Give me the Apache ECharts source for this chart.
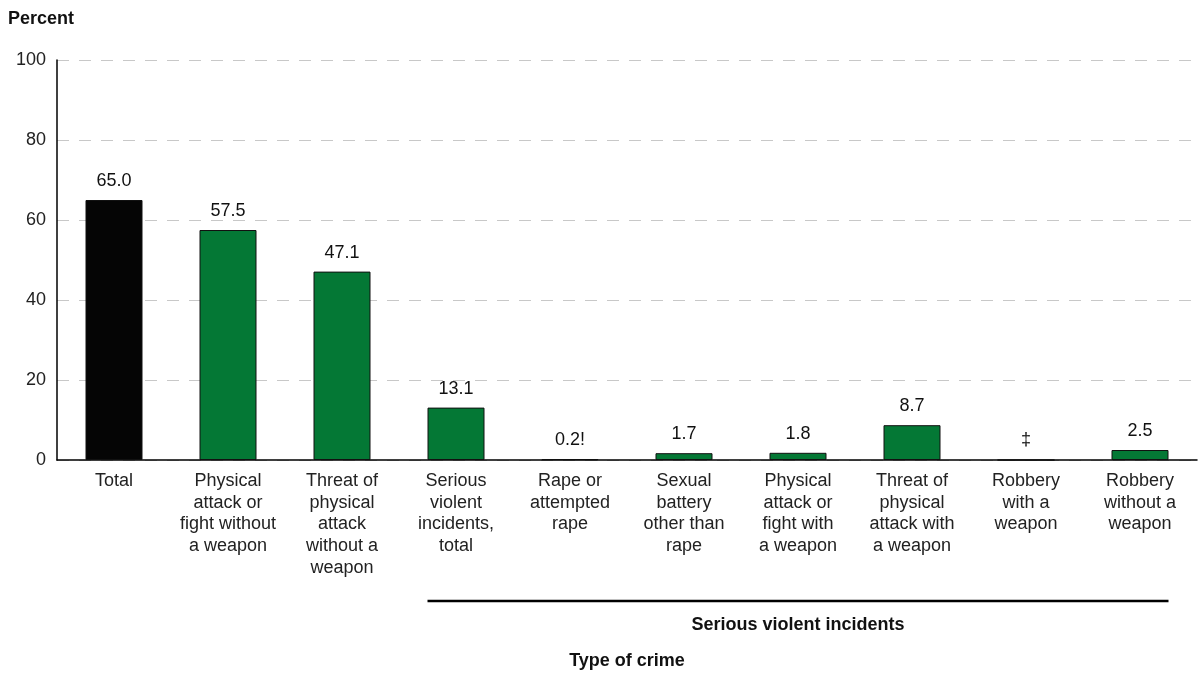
<!DOCTYPE html>
<html><head><meta charset="utf-8">
<script src="https://cdn.jsdelivr.net/npm/echarts@6/dist/echarts.min.js"></script>
<style>html,body{margin:0;padding:0;background:#fff}#c{width:1203px;height:675px}</style>
</head><body><div id="c"></div>
<script>
const categories = ["Total", "Physical\nattack or\nfight without\na weapon", "Threat of\nphysical\nattack\nwithout a\nweapon", "Serious\nviolent\nincidents,\ntotal", "Rape or\nattempted\nrape", "Sexual\nbattery\nother than\nrape", "Physical\nattack or\nfight with\na weapon", "Threat of\nphysical\nattack with\na weapon", "Robbery\nwith a\nweapon", "Robbery\nwithout a\nweapon"];
const values = [65.0, 57.5, 47.1, 13.1, 0.2, 1.7, 1.8, 8.7, 0, 2.5];
const valueLabels = ["65.0", "57.5", "47.1", "13.1", "0.2!", "1.7", "1.8", "8.7", "‡", "2.5"];
const yTicks = [0, 20, 40, 60, 80, 100];
const groupLabel = "Serious violent incidents";
const groupStart = 3, groupEnd = 9;

const FONT = "Liberation Sans, Arial, sans-serif";
const chart = echarts.init(document.getElementById('c'), null, {renderer: 'canvas'});
const option = {
  animation: false,
  textStyle: {fontFamily: FONT},
  grid: {left: 57, right: 6, top: 60, bottom: 214, containLabel: false},
  xAxis: {
    type: 'category', data: categories,
    axisLine: {lineStyle: {color: '#000', width: 1.5}},
    axisTick: {show: false},
    axisLabel: {color: '#222', fontSize: 18, lineHeight: 21.7, interval: 0, margin: 10, fontFamily: FONT},
    name: 'Type of crime', nameLocation: 'middle', nameGap: 192,
    nameTextStyle: {fontWeight: 'bold', fontSize: 18, color: '#111', fontFamily: FONT}
  },
  yAxis: {
    type: 'value', min: 0, max: 100, interval: 20,
    axisLine: {show: true, lineStyle: {color: '#000', width: 1.5}},
    axisTick: {show: false},
    axisLabel: {color: '#222', fontSize: 18, margin: 11, fontFamily: FONT,
      formatter: v => yTicks.includes(v) ? String(v) : ''},
    splitLine: {lineStyle: {color: '#c8c8c8', type: [12, 10], width: 1}}
  },
  series: [{
    type: 'bar', barWidth: '50%',
    data: values.map((v, i) => ({value: v, itemStyle: {color: i === 0 ? '#050505' : '#047835'}})),
    itemStyle: {borderColor: '#111', borderWidth: 1},
    label: {show: true, position: 'top', distance: 10, color: '#111', fontSize: 18, fontFamily: FONT,
      formatter: p => valueLabels[p.dataIndex]}
  }]
};
chart.setOption(option);
const bw = chart.convertToPixel({xAxisIndex: 0}, categories[1]) - chart.convertToPixel({xAxisIndex: 0}, categories[0]);
const x1 = chart.convertToPixel({xAxisIndex: 0}, categories[groupStart]) - bw * 0.25;
const x2 = chart.convertToPixel({xAxisIndex: 0}, categories[groupEnd]) + bw * 0.25;
chart.setOption({graphic: [
  {type: 'text', x: 8, y: 19, style: {text: 'Percent', font: 'bold 18px ' + FONT, fill: '#111', textVerticalAlign: 'middle'}},
  {type: 'line', shape: {x1: x1, y1: 601, x2: x2, y2: 601}, style: {stroke: '#000', lineWidth: 2.5}},
  {type: 'text', x: (x1 + x2) / 2, y: 625, style: {text: groupLabel, font: 'bold 18px ' + FONT, fill: '#111', textAlign: 'center', textVerticalAlign: 'middle'}}
]});
</script></body></html>
